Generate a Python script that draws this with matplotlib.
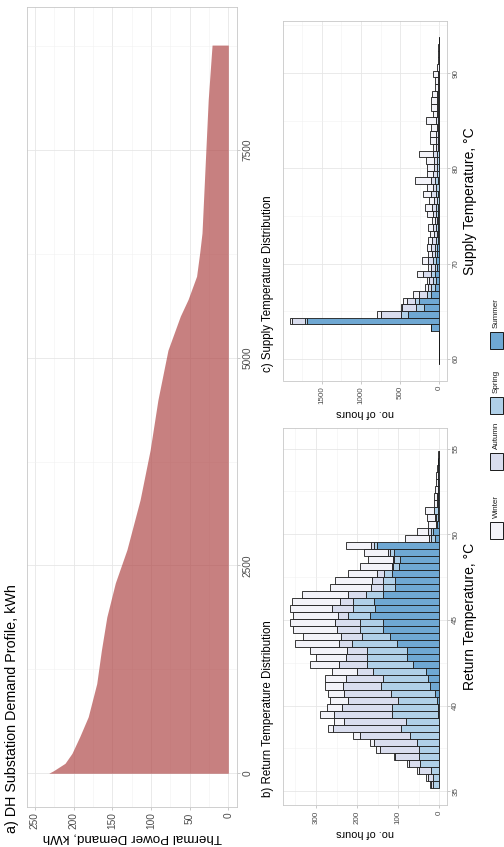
import matplotlib
matplotlib.use('Agg')
import matplotlib.pyplot as plt
import numpy as np
from matplotlib.patches import Rectangle

plt.rcParams['font.family'] = ['Liberation Sans', 'DejaVu Sans']

# a) load duration curve (hour, kWh)
hours = [0, 30, 60, 120, 240, 440, 680, 1080, 1480, 1880, 2290, 2690,
         3290, 3890, 4490, 5090, 5500, 5700, 5980, 6260, 6500, 7300, 8100, 8760]
demand = [232, 226, 221, 211, 202, 192, 181, 170, 164, 157, 146, 131,
          114, 101, 91, 78, 62, 52, 41, 37, 34, 30, 26, 21]

seasons = ['Summer', 'Spring', 'Autumn', 'Winter']  # stacking order from the axis
season_colors = ['#6fa8d3', '#b0d0e8', '#d9ddee', '#f3f3f9']
legend_order = ['Winter', 'Autumn', 'Spring', 'Summer']

# b) return temperature histogram, 48 bins of 0.41 degC from 35.2
ret_start, ret_width = 35.2, 0.41
ret_summer = [0, 0, 0, 0, 0, 0, 0, 0, 0, 0, 2, 2, 5, 10, 23, 27, 32, 65, 78, 79,
              104, 120, 136, 138, 169, 157, 159, 136, 108, 108, 114, 97, 96, 110, 151, 11,
              15, 6, 4, 4, 3, 2, 2, 2, 3, 3, 2, 1]
ret_spring = [15, 15, 20, 47, 49, 49, 55, 71, 92, 81, 114, 112, 95, 108, 119, 109, 130, 112, 99, 97,
              109, 69, 57, 55, 53, 53, 50, 42, 30, 28, 21, 15, 14, 11, 9, 8,
              6, 0, 3, 8, 3, 2, 2, 0, 0, 0, 0, 0]
ret_autumn = [5, 13, 29, 27, 59, 96, 105, 123, 166, 151, 140, 122, 122, 114, 92, 91, 39, 66, 50, 49,
              32, 49, 57, 61, 24, 50, 32, 43, 28, 28, 16, 2, 2, 5, 5, 6,
              6, 1, 4, 2, 0, 2, 0, 2, 0, 0, 0, 0]
ret_winter = [3, 5, 6, 5, 2, 9, 9, 15, 14, 24, 34, 38, 44, 40, 44, 51, 59, 72, 73, 89,
              106, 93, 105, 109, 109, 103, 118, 112, 100, 90, 72, 79, 61, 57, 63, 59,
              27, 20, 20, 22, 7, 7, 6, 4, 5, 3, 2, 2]

# c) supply temperature histogram, 49 bins of 0.70 degC from 59.45
sup_start, sup_width = 59.45, 0.70
sup_summer = [2, 1, 1, 2, 6, 100, 1683, 404, 191, 255, 100, 60, 45, 50, 30, 40, 25, 25, 20, 15,
              15, 10, 10, 10, 8, 10, 8, 10, 5, 5, 5, 5, 3, 3, 3, 3,
              3, 2, 2, 2, 2, 1, 1, 1, 1, 0, 0, 0, 0]
sup_spring = [1, 1, 1, 1, 2, 10, 25, 89, 100, 60, 61, 40, 35, 60, 30, 40, 25, 30, 25, 20,
              25, 20, 30, 30, 25, 35, 30, 40, 30, 25, 25, 25, 15, 15, 15, 12,
              15, 10, 10, 10, 8, 5, 5, 5, 2, 2, 1, 1, 1]
sup_autumn = [0, 0, 0, 0, 0, 0, 166, 250, 180, 100, 100, 40, 45, 100, 40, 70, 40, 50, 45, 35,
              40, 28, 45, 50, 35, 55, 45, 60, 40, 40, 40, 50, 20, 25, 25, 20,
              30, 18, 20, 20, 18, 10, 10, 15, 5, 4, 3, 2, 1]
sup_winter = [0, 0, 0, 0, 0, 0, 30, 47, 22, 52, 70, 38, 36, 79, 50, 75, 50, 56, 59, 49,
              60, 40, 76, 93, 60, 104, 78, 200, 86, 91, 100, 175, 39, 76, 76, 75,
              122, 55, 78, 78, 70, 39, 39, 64, 17, 14, 11, 9, 6]

W, H = 504, 847
fig = plt.figure(figsize=(W / 100, H / 100), dpi=100)
fig.patch.set_facecolor('white')

grid_major = '#e6e6e6'
grid_minor = '#f1f1f1'
tick_col = '#4d4d4d'


def px_axes(x0, y0, x1, y1):
    return fig.add_axes([x0 / W, 1 - y1 / H, (x1 - x0) / W, (y1 - y0) / H])


def style(ax, xmaj, xmin, ymaj, ymin, labelsize=5.8):
    ax.set_xticks(xmaj)
    ax.set_xticks(xmin, minor=True)
    ax.set_yticks(ymaj)
    ax.set_yticks(ymin, minor=True)
    ax.grid(which='major', color=grid_major, lw=0.6)
    ax.grid(which='minor', color=grid_minor, lw=0.4)
    ax.set_axisbelow(True)
    for s in ax.spines.values():
        s.set_color('#c8c8c8')
        s.set_linewidth(0.6)
    ax.yaxis.tick_right()
    ax.tick_params(which='minor', length=0)
    ax.tick_params(which='major', length=2.5, width=0.5, color='#b3b3b3',
                   labelsize=labelsize, labelcolor=tick_col, pad=1.5)
    ax.tick_params(axis='x', labelrotation=90)
    for tl in ax.get_yticklabels():
        tl.set_rotation(90)
        tl.set_va('center')


def stacked(ax, start, width, parts):
    n = len(parts[0])
    centers = start + width * (np.arange(n) + 0.5)
    left = np.zeros(n)
    for vals, col in zip(parts, season_colors):
        vals = np.asarray(vals, dtype=float)
        ax.barh(centers, vals, height=width, left=left, color=col,
                edgecolor='#1a1a1a', linewidth=0.6)
        left += vals


# panel a
ax_a = px_axes(26.7, 7, 237.3, 806.7)
ax_a.fill_betweenx(hours, 0, demand, color='#b04a4a', alpha=0.7, lw=0)
ax_a.set_xlim(260.5, -11.6)
ax_a.set_ylim(-402, 9218)
style(ax_a, [0, 50, 100, 150, 200, 250], [25, 75, 125, 175, 225],
      [0, 2500, 5000, 7500], [1250, 3750, 6250, 8750], labelsize=7.3)
ax_a.set_xlabel('Thermal Power Demand, kWh', rotation=180, fontsize=9.6, labelpad=2)

# panel b
ax_b = px_axes(282.7, 428, 446.7, 805)
stacked(ax_b, ret_start, ret_width, [ret_summer, ret_spring, ret_autumn, ret_winter])
ax_b.set_xlim(381, -18)
ax_b.set_ylim(34.2, 56.2)
style(ax_b, [0, 100, 200, 300], [50, 150, 250, 350],
      [35, 40, 45, 50, 55], [37.5, 42.5, 47.5, 52.5])
ax_b.set_xlabel('no. of hours', rotation=180, fontsize=7.8, labelpad=3)
ax_b.yaxis.set_label_position('right')
ax_b.set_ylabel('Return Temperature, °C', rotation=90, fontsize=10, labelpad=3)

# panel c
ax_c = px_axes(282.7, 21, 446.7, 380.5)
stacked(ax_c, sup_start, sup_width, [sup_summer, sup_spring, sup_autumn, sup_winter])
ax_c.set_xlim(1999, -95)
ax_c.set_ylim(57.74, 95.47)
style(ax_c, [0, 500, 1000, 1500], [250, 750, 1250, 1750],
      [60, 70, 80, 90], [65, 75, 85, 95])
ax_c.set_xlabel('no. of hours', rotation=180, fontsize=7.8, labelpad=3)
ax_c.yaxis.set_label_position('right')
ax_c.set_ylabel('Supply Temperature, °C', rotation=90, fontsize=10, labelpad=3)

# panel titles
title_kw = dict(rotation=90, ha='center', va='bottom', color='black')
fig.text(12.5 / W, 1 - 833 / H, 'a) DH Substation Demand Profile, kWh',
         fontsize=10.3, **title_kw)
fig.text(268 / W, 1 - 797 / H, 'b) Return Temperature Distribution',
         fontsize=8.3, **title_kw)
fig.text(268 / W, 1 - 372 / H, 'c) Supply Temperature Distribution',
         fontsize=8.3, **title_kw)

# legend
box_y = {'Winter': 522, 'Autumn': 453, 'Spring': 397, 'Summer': 332}
for name in legend_order:
    col = season_colors[seasons.index(name)]
    y0 = box_y[name]
    fig.add_artist(Rectangle((490 / W, 1 - (y0 + 17) / H), 13 / W, 17 / H,
                             transform=fig.transFigure, facecolor=col,
                             edgecolor='#1a1a1a', lw=0.7))
    fig.text(496.5 / W, 1 - (y0 - 4) / H, name, rotation=90, ha='center',
             va='bottom', fontsize=5.8, color='#1a1a1a')

fig.savefig('out.png', dpi=100)
